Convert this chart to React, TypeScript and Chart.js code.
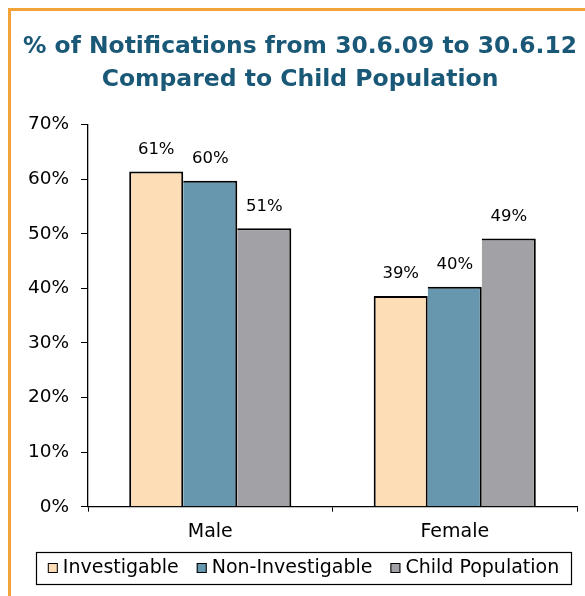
import React, { useEffect, useRef } from "react";
import { Chart, registerables } from "chart.js";

Chart.register(...registerables);

const categories = ["Male", "Female"];
const seriesNames = ["Investigable", "Non-Investigable", "Child Population"];
const investigable = [61.4, 38.6];
const nonInvestigable = [59.7, 40.3];
const childPopulation = [51.0, 49.1];
const seriesColors = ["#FCDDB5", "#6797AE", "#A1A1A6"];
const titleLines = ["% of Notifications from 30.6.09 to 30.6.12", "Compared to Child Population"];
const yMin = 0;
const yMax = 70;
const yStep = 10;

const FONT = '"DejaVu Sans", "Liberation Sans", Arial, sans-serif';

const dataLabelPlugin = {
  id: "dataLabels",
  afterDatasetsDraw(chart: any) {
    const ctx = chart.ctx;
    ctx.save();
    ctx.font = `16.5px ${FONT}`;
    ctx.fillStyle = "#000";
    ctx.textAlign = "center";
    ctx.textBaseline = "middle";
    chart.data.datasets.forEach((ds: any, i: number) => {
      const meta = chart.getDatasetMeta(i);
      meta.data.forEach((el: any, j: number) => {
        const v = ds.data[j];
        ctx.fillText(`${Math.round(v)}%`, el.x, el.y - 22);
      });
    });
    ctx.restore();
  },
};

const boxedLegendPlugin = {
  id: "boxedLegend",
  afterDraw(chart: any) {
    const ctx = chart.ctx;
    const xs = chart.scales.x;
    ctx.save();
    ctx.font = `19px ${FONT}`;
    const sw = 10;
    const gapText = 5;
    const gapItem = 18;
    const pad = 12;
    const items = chart.data.datasets.map((ds: any) => ({
      label: ds.label,
      color: ds.backgroundColor,
      w: ctx.measureText(ds.label).width,
    }));
    let total = 0;
    items.forEach((it: any, i: number) => {
      total += sw + gapText + it.w + (i > 0 ? gapItem : 0);
    });
    const cx = chart.width / 2 + 11;
    const boxTop = xs.bottom + 9;
    const boxH = 32;
    const cy = boxTop + boxH / 2;
    const boxLeft = Math.round(cx - total / 2 - pad);
    const boxW = Math.round(total + pad * 2);
    ctx.strokeStyle = "#000";
    ctx.lineWidth = 1.2;
    ctx.strokeRect(boxLeft + 0.5, Math.round(boxTop) + 0.5, boxW, boxH);
    let x = cx - total / 2;
    ctx.textAlign = "left";
    ctx.textBaseline = "middle";
    items.forEach((it: any) => {
      ctx.fillStyle = it.color;
      ctx.fillRect(x, cy - 5, sw, sw);
      ctx.lineWidth = 1;
      ctx.strokeStyle = "#000";
      ctx.strokeRect(x + 0.5, Math.round(cy - 5) + 0.5, sw - 1, sw - 1);
      ctx.fillStyle = "#000";
      ctx.fillText(it.label, x + sw + gapText, cy);
      x += sw + gapText + it.w + gapItem;
    });
    ctx.restore();
  },
};

function BarChart() {
  const ref = useRef<HTMLCanvasElement>(null);
  useEffect(() => {
    if (!ref.current) return;
    const seriesData = [investigable, nonInvestigable, childPopulation];
    const chart = new Chart(ref.current, {
      type: "bar",
      data: {
        labels: categories,
        datasets: seriesNames.map((name, i) => ({
          label: name,
          data: seriesData[i],
          backgroundColor: seriesColors[i],
          borderColor: "#000",
          borderSkipped: false,
          borderWidth: { left: i === 0 ? 2 : 0, top: 2, right: 2, bottom: 0 },
          inflateAmount: 0,
          categoryPercentage: 0.663,
          barPercentage: 1,
        })),
      },
      options: {
        responsive: false,
        animation: false,
        devicePixelRatio: 1,
        layout: { padding: { left: 23, right: 8, top: 10, bottom: 53 } },
        plugins: {
          legend: { display: false },
          tooltip: { enabled: false },
          title: {
            display: true,
            text: titleLines,
            color: "#1A5877",
            font: { family: FONT, size: 23.5, weight: "bold", lineHeight: 1.4255 },
            padding: { top: 20, bottom: 27.5 },
          },
        },
        scales: {
          x: {
            grid: {
              display: true,
              drawOnChartArea: false,
              drawTicks: true,
              tickLength: 5,
              color: "#000",
              offset: true,
            },
            border: { display: true, color: "#000", width: 1.3 },
            ticks: { color: "#000", font: { family: FONT, size: 19 }, padding: 9 },
            afterFit: (s: any) => {
              s.height = 36.3;
            },
          },
          y: {
            min: yMin,
            max: yMax,
            grid: {
              display: true,
              drawOnChartArea: false,
              drawTicks: true,
              tickLength: 7,
              color: "#000",
            },
            border: { display: true, color: "#000", width: 1.3 },
            ticks: {
              stepSize: yStep,
              color: "#000",
              font: { family: FONT, size: 18.5 },
              padding: 12,
              callback: (v: any) => `${v}%`,
            },
            afterFit: (s: any) => {
              s.width = 65;
            },
          },
        },
      },
      plugins: [dataLabelPlugin, boxedLegendPlugin],
    });
    return () => chart.destroy();
  }, []);
  return (
    <canvas
      ref={ref}
      width={585}
      height={596}
      style={{ position: "absolute", left: 0, top: 0, display: "block" }}
    />
  );
}

export default function App() {
  return (
    <div style={{ position: "fixed", left: 0, top: 0, width: 585, height: 596, background: "#fff", overflow: "hidden" }}>
      <BarChart />
      <div style={{ position: "absolute", left: 8, top: 8, width: 3, height: 588, background: "#F4A338" }} />
      <div style={{ position: "absolute", left: 8, top: 8, width: 577, height: 3, background: "#F4A338" }} />
    </div>
  );
}
